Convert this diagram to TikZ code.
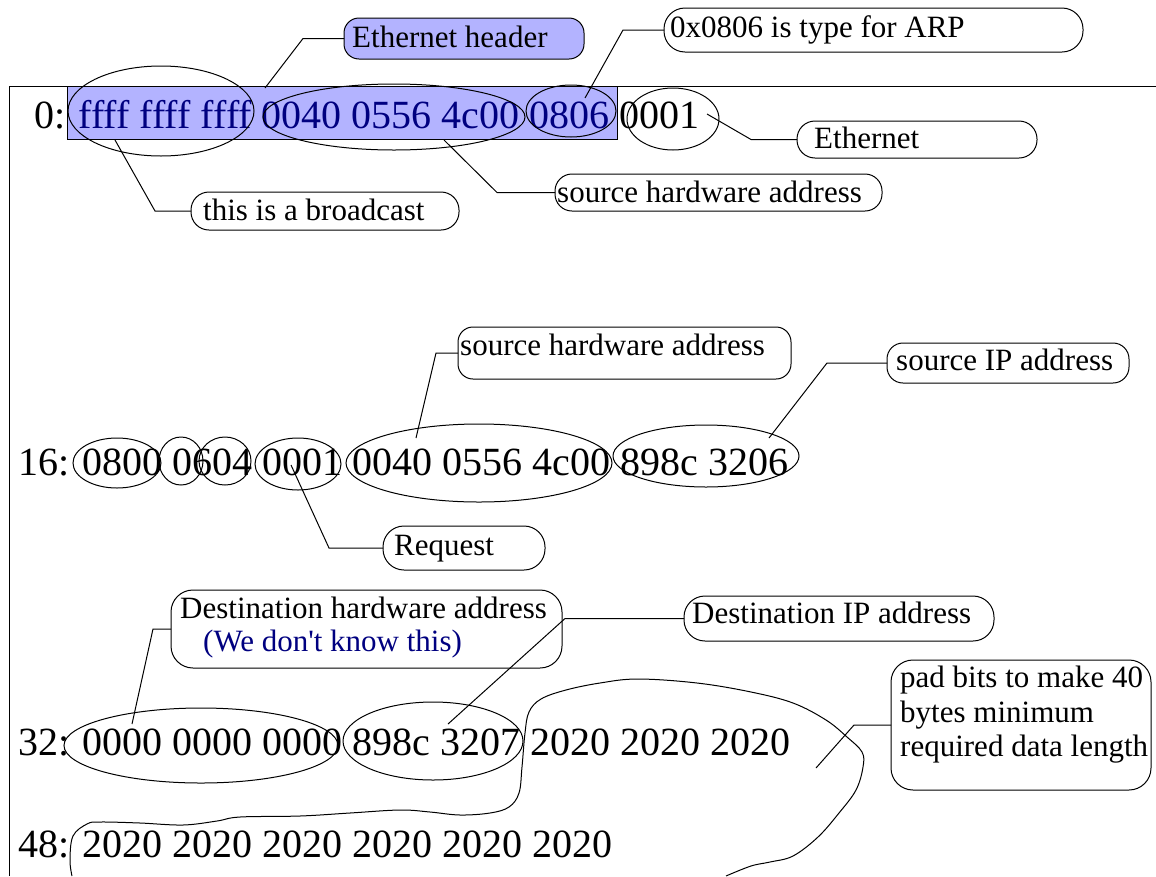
\documentclass[tikz,border=0pt]{standalone}
\usepackage{fontspec}
\setmainfont{Liberation Serif}
% a family without TeX ligatures, so that ' stays a straight quote
\newfontfamily\dumpserif{Liberation Serif}
\usetikzlibrary{shapes.geometric}
\definecolor{hdrblue}{RGB}{179,179,255}
\definecolor{inkblue}{RGB}{0,0,128}
\newcommand\rowfont{\dumpserif\fontsize{40}{48}\selectfont}
\newcommand\notefont{\dumpserif\fontsize{31}{36}\selectfont}
\tikzset{
  hexrow/.style={anchor=base west, inner sep=0pt, font=\rowfont},
  note/.style={anchor=base west, inner sep=0pt, font=\notefont},
  callout/.style={draw, line width=1pt, inner sep=0pt, outer sep=0pt, fill=white},
  field/.style={ellipse, draw, line width=1pt, inner sep=0pt, outer sep=0pt},
  leader/.style={line width=1pt},
}
\begin{document}
\begin{tikzpicture}[x=1pt, y=-1pt]
\useasboundingbox (0,0) rectangle (1156,876);

% frame of the packet dump
\draw[line width=1pt] (9,876) -- (9,86) -- (1156,86);

% Ethernet header highlight
\node[draw, line width=1pt, fill=hdrblue, minimum width=550, minimum height=53, inner sep=0pt] (hdr) at (342,112.5) {};

% hex dump rows
\node[hexrow] (row0) at (34,128) {0: \textcolor{inkblue}{ffff ffff ffff 0040 0556 4c00 0806} 0001};
\node[hexrow] (row16) at (18,475) {16: 0800 0604 0001 0040 0556 4c00 898c 3206};
\node[hexrow] (row32) at (18,755) {32: 0000 0000 0000 898c 3207 2020 2020 2020};
\node[hexrow] (row48) at (18,857) {48: 2020 2020 2020 2020 2020 2020};

% field outlines
\node[field, minimum width=186, minimum height=90] (e0a) at (161,111) {};
\node[field, minimum width=262, minimum height=66] (e0b) at (394,117) {};
\node[field, minimum width=90, minimum height=52] (e0c) at (571,111) {};
\node[field, minimum width=92, minimum height=62] (e0d) at (673,119) {};
\node[field, minimum width=88, minimum height=50] (e16a) at (117,463) {};
\node[field, minimum width=44, minimum height=48] (e16b) at (181,461) {};
\node[field, minimum width=52, minimum height=48] (e16c) at (225,461) {};
\node[field, minimum width=86, minimum height=52] (e16d) at (298,464) {};
\node[field, minimum width=266, minimum height=78] (e16e) at (479,463) {};
\node[field, minimum width=186, minimum height=62] (e16f) at (706,456) {};
\node[field, minimum width=274, minimum height=75] (e32a) at (201,745.5) {};
\node[field, minimum width=180, minimum height=78] (e32b) at (433,741) {};

% padding outline
\draw[line width=1pt] plot[smooth, tension=0.6] coordinates {
  (72,876) (70,860) (73,836) (87,824) (100,822) (140,823) (183,825) (217,821)
  (240,817) (300,816) (350,813) (400,810) (430,812) (460,815) (490,813)
  (509,807) (519,793) (522,767) (525,733) (529,712) (541,699) (566,690)
  (600,683) (638,679) (697,683) (751,692) (793,703) (826,720) (847,737)
  (862,752) (863,767) (856,790) (839,813) (818,837) (793,856) (770,862)
  (751,866) (726,876)};

% callout boxes
\node[callout, fill=hdrblue, rounded corners=15, minimum width=240, minimum height=41] (bEth) at (464,38.5) {};
\node[callout, rounded corners=21, minimum width=419, minimum height=44] (bArp) at (873.5,30) {};
\node[callout, rounded corners=18, minimum width=240, minimum height=37] (bEthernet) at (917,139.5) {};
\node[callout, rounded corners=17, minimum width=327, minimum height=37] (bSha0) at (718.5,192.5) {};
\node[callout, rounded corners=18, minimum width=268, minimum height=38] (bBcast) at (325,211) {};
\node[callout, rounded corners=15, minimum width=333, minimum height=52] (bSha16) at (624.5,353) {};
\node[callout, rounded corners=16, minimum width=242, minimum height=40] (bSip) at (1008,363) {};
\node[callout, rounded corners=21, minimum width=162, minimum height=44] (bReq) at (464,548) {};
\node[callout, rounded corners=22, minimum width=391, minimum height=78] (bDha) at (366.5,629) {};
\node[callout, rounded corners=21, minimum width=310, minimum height=45] (bDip) at (839,618.5) {};
\node[callout, rounded corners=22, minimum width=260, minimum height=130] (bPad) at (1021,725) {};

% callout texts
\node[note] (tEth) at (352,47) {Ethernet header};
\node[note] (tArp) at (670,37) {0x0806 is type for ARP};
\node[note] (tEthernet) at (814,148) {Ethernet};
\node[note] (tSha0) at (557,202) {source hardware address};
\node[note] (tBcast) at (203,220) {this is a broadcast};
\node[note] (tSha16) at (460,355) {source hardware address};
\node[note] (tSip) at (896,370) {source IP address};
\node[note] (tReq) at (394,555) {Request};
\node[note] (tDha) at (180,618) {Destination hardware address};
\node[note, text=inkblue] (tDhaB) at (203,651) {(We don't know this)};
\node[note] (tDip) at (692,623) {Destination IP address};
\node[note] (tPad1) at (900,687) {pad bits to make 40};
\node[note] (tPad2) at (900,722) {bytes minimum};
\node[note] (tPad3) at (900,756) {required data length};

% points the leaders reach
\coordinate (pEth) at (265,88);
\coordinate (pArp) at (585,98);
\coordinate (pEthernet) at (707,114);
\coordinate (pSha0) at (444,140);
\coordinate (pBcast) at (115,140);
\coordinate (pSha16) at (416,438);
\coordinate (pSip) at (769,438);
\coordinate (pReq) at (291,465);
\coordinate (pDha) at (132,724);
\coordinate (pDip) at (448,724);
\coordinate (pPad) at (816,768);

% leaders
\draw[leader] (bEth.west) -- ++(-41,0) -- (pEth);
\draw[leader] (bArp.west) -- ++(-41,0) -- (pArp);
\draw[leader] (bEthernet.west) -- ++(-46,0) -- (pEthernet);
\draw[leader] (bSha0.west) -- ++(-58,0) -- (pSha0);
\draw[leader] (bBcast.west) -- ++(-36,0) -- (pBcast);
\draw[leader] (bSha16.west) -- ++(-22,0) -- (pSha16);
\draw[leader] (bSip.west) -- ++(-60,0) -- (pSip);
\draw[leader] (bReq.west) -- ++(-54,0) -- (pReq);
\draw[leader] (bDha.west) -- ++(-18,0) -- (pDha);
\draw[leader] (bDip.west) -- ++(-119,0) -- (pDip);
\draw[leader] (bPad.west) -- ++(-37,0) -- (pPad);
\end{tikzpicture}
\end{document}
